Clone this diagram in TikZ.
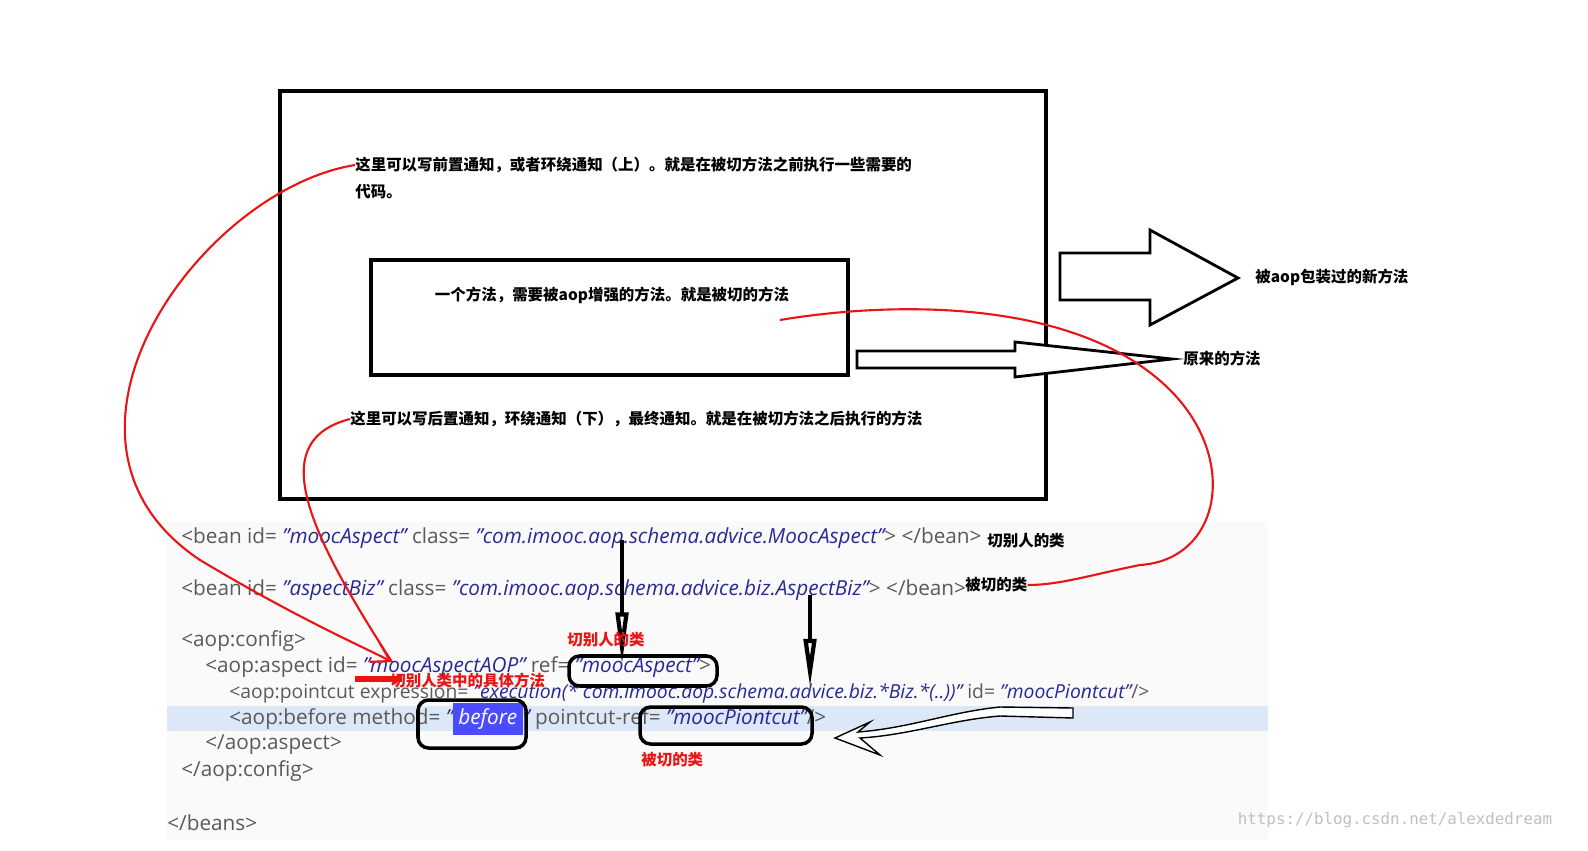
\documentclass[tikz,border=0pt]{standalone}
\usepackage{fontspec}
\setmainfont{Open Sans}
\newfontfamily\cjk{Noto Sans CJK SC}
\newfontfamily\wmfont{DejaVu Sans Mono}
\usetikzlibrary{arrows.meta}
\definecolor{codegray}{RGB}{90,90,90}
\definecolor{codeblue}{RGB}{40,40,150}
\definecolor{hlblue}{RGB}{220,232,248}
\definecolor{redpen}{RGB}{235,20,20}
\newcommand{\tg}[1]{\textcolor{codegray}{#1}}
\newcommand{\sv}[1]{\textcolor{codeblue}{\itshape #1}}
\begin{document}
\begin{tikzpicture}[x=0.02cm,y=-0.02cm,
		note/.style={font=\cjk\bfseries\fontsize{8.8}{11}\selectfont,anchor=west,inner sep=0pt},
		rednote/.style={note,text=redpen},
		code/.style={font=\fontsize{11.8}{13}\selectfont,anchor=west,inner sep=0pt},
		frame/.style={draw,line width=2.2pt},
		pen/.style={draw=redpen,line width=1.2pt},
		ring/.style={draw,line width=2pt,rounded corners=6pt},
		hollow/.style={draw,line width=1.6pt,fill=white}
		]
		\useasboundingbox (0,0) rectangle (1588,851);
		% boxes
		\draw[frame] (280,91) rectangle (1046,499);
		\draw[frame] (371,260) rectangle (848,375);
		\node[note] (pre) at (355,165) {这里可以写前置通知，或者环绕通知（上）。就是在被切方法之前执行一些需要的};
		\node[note] (pre2) at (355,192) {代码。};
		\node[note,anchor=center] (meth) at (612,295) {一个方法，需要被aop增强的方法。就是被切的方法};
		\node[note] (post) at (350,419) {这里可以写后置通知，环绕通知（下），最终通知。就是在被切方法之后执行的方法};
		% hollow arrows
		\draw[hollow] (1060,253) -- (1150,253) -- (1150,230) -- (1238,278) -- (1150,325) -- (1150,300) -- (1060,300) -- cycle;
		\node[note] (newm) at (1255,277) {被aop包装过的新方法};
		\draw[hollow] (857,351) -- (1015,351) -- (1015,342) -- (1172,359) -- (1015,377) -- (1015,368) -- (857,368) -- cycle;
		\node[note] (oldm) at (1183,359) {原来的方法};
		% code panel
		\fill[gray!4] (167,522) rectangle (1268,840);
		\fill[hlblue] (167,706) rectangle (1268,731);
		\node[code] (l1) at (181,538) {\tg{<bean id=} \sv{"moocAspect"} \tg{class=} \sv{"com.imooc.aop.schema.advice.MoocAspect"}\tg{> </bean>}};
		\node[code] (l2) at (181,590) {\tg{<bean id=} \sv{"aspectBiz"} \tg{class=} \sv{"com.imooc.aop.schema.advice.biz.AspectBiz"}\tg{> </bean>}};
		\node[code] (l3) at (181,641) {\tg{<aop:config>}};
		\node[code] (l4) at (205,667) {\tg{<aop:aspect id=} \sv{"moocAspectAOP"} \tg{ref=} \sv{"moocAspect"}\tg{>}};
		\node[code,font=\fontsize{11}{13}\selectfont] (l5) at (229,693) {\tg{<aop:pointcut expression=} \sv{"execution(* com.imooc.aop.schema.advice.biz.*Biz.*(..))"} \tg{id=} \sv{"moocPiontcut"}\tg{/>}};
		\node[code] (l6) at (229,719) {\tg{<aop:before method=} \sv{"\colorbox{blue!70}{\textcolor{white}{before}}"} \tg{pointcut-ref=} \sv{"moocPiontcut"}\tg{/>}};
		\node[code] (l7) at (205,745) {\tg{</aop:aspect>}};
		\node[code] (l8) at (181,771) {\tg{</aop:config>}};
		\node[code] (l9) at (167,823) {\tg{</beans>}};
		\node[note] (cut1) at (987,541) {切别人的类};
		\node[note] (cut2) at (965,585) {被切的类};
		\node[text=gray!50,font=\wmfont\fontsize{9}{10}\selectfont] (wm) at (1395,820) {https://blog.csdn.net/alexdedream};
		% black marks
		\draw[ring] (569,656) rectangle (717,686);
		\draw[ring] (418,700) rectangle (526,748);
		\draw[ring] (640,707) rectangle (812,744);
		\draw[line width=2.4pt,-{Triangle[open,length=30pt,width=7pt]}] (622,540) -- (622,665);
		\draw[line width=2.4pt,-{Triangle[open,length=28pt,width=7pt]}] (810,595) -- (810,688);
		\draw[line width=0.8pt,fill=white] (1073,708) -- (1073,718) -- (1000,716) .. controls (950,720) and (910,735) .. (860,738)
			-- (880,755) -- (835,738) -- (870,722) -- (858,732) .. controls (910,728) and (950,712) .. (1000,707) -- cycle;
		% red annotations
		\node[rednote] (lab1) at (567,640) {切别人的类};
		\node[rednote] (lab2) at (390,681) {切别人类中的具体方法};
		\node[rednote] (lab3) at (641,760) {被切的类};
		\draw[pen,-{Straight Barb[length=10pt,width=12pt]}] (pre.west) .. controls (200,190) and (20,440) .. (200,560) .. controls (300,620) and (370,650) .. (392,662);
		\draw[pen] (post.west) .. controls (270,440) and (300,520) .. (392,662);
		\draw[pen,line width=3pt] (355,679) -- (402,679);
		\draw[pen] (780,320) .. controls (900,300) and (1080,300) .. (1170,390) .. controls (1240,460) and (1220,560) .. (1140,565) .. controls (1090,575) and (1060,585) .. (cut2.east);
	\end{tikzpicture}
\end{document}
